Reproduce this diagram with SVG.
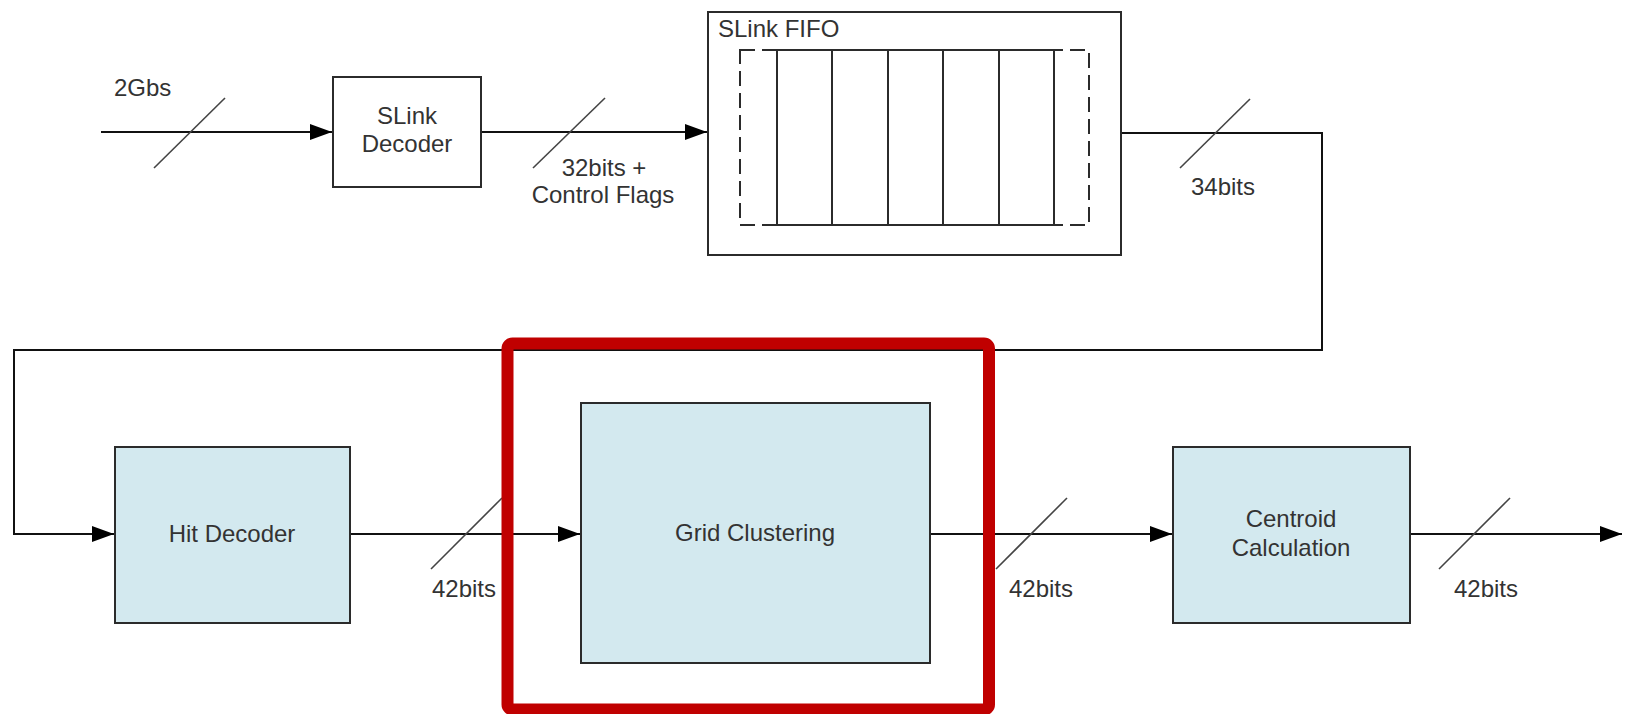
<svg xmlns="http://www.w3.org/2000/svg" width="1628" height="714" viewBox="0 0 1628 714">
<style>
.box{fill:#ffffff;stroke:#2b2b2b;stroke-width:2}
.blue{fill:#d3e9ef;stroke:#2b2b2b;stroke-width:2}
.txt{font-family:"Liberation Sans",Arial,sans-serif;font-size:24px;fill:#333333}
.mid{text-anchor:middle}
.wire{fill:none;stroke:#111111;stroke-width:2}
.slash{stroke:#444444;stroke-width:1.6}
.dash{fill:none;stroke:#2b2b2b;stroke-width:2;stroke-dasharray:15 7}
</style>
<defs>
<marker id="arr" markerUnits="userSpaceOnUse" markerWidth="24" markerHeight="18" refX="22" refY="8" orient="auto">
<path d="M0,0 L22,8 L0,16 z" fill="#000000"/>
</marker>
</defs>
<rect width="1628" height="714" fill="#ffffff"/>

<g id="connectors">
<path class="wire" d="M101,132 H332" marker-end="url(#arr)"/>
<path class="wire" d="M481,132 H707" marker-end="url(#arr)"/>
<path class="wire" d="M1121,133 H1322 V350 H14 V534 H114" marker-end="url(#arr)"/>
<path class="wire" d="M350,534 H580" marker-end="url(#arr)"/>
<path class="wire" d="M930,534 H1172" marker-end="url(#arr)"/>
<path class="wire" d="M1410,534 H1622" marker-end="url(#arr)"/>
<line class="slash" x1="154" y1="168" x2="225" y2="98"/>
<line class="slash" x1="533" y1="168" x2="605" y2="98"/>
<line class="slash" x1="1180" y1="168" x2="1250" y2="99"/>
<line class="slash" x1="431" y1="569" x2="502" y2="498"/>
<line class="slash" x1="996" y1="569" x2="1067" y2="498"/>
<line class="slash" x1="1439" y1="569" x2="1510" y2="498"/>
<text class="txt" x="114" y="96">2Gbs</text>
<text class="txt mid" x="604" y="176">32bits +</text>
<text class="txt mid" x="603" y="203">Control Flags</text>
<text class="txt mid" x="1223" y="195">34bits</text>
<text class="txt mid" x="464" y="597">42bits</text>
<text class="txt mid" x="1041" y="597">42bits</text>
<text class="txt mid" x="1486" y="597">42bits</text>
</g>

<g id="slink-decoder">
<rect class="box" x="333" y="77" width="148" height="110"/>
<text class="txt mid" x="407" y="124">SLink</text>
<text class="txt mid" x="407" y="152">Decoder</text>
</g>

<g id="slink-fifo">
<rect class="box" x="708" y="12" width="413" height="243"/>
<text class="txt" x="718" y="37">SLink FIFO</text>
<rect class="dash" x="740" y="50" width="349" height="175"/>
<rect class="box" x="777" y="50" width="277" height="175"/>
<line x1="832" y1="50" x2="832" y2="225" stroke="#2b2b2b" stroke-width="2"/>
<line x1="888" y1="50" x2="888" y2="225" stroke="#2b2b2b" stroke-width="2"/>
<line x1="943" y1="50" x2="943" y2="225" stroke="#2b2b2b" stroke-width="2"/>
<line x1="999" y1="50" x2="999" y2="225" stroke="#2b2b2b" stroke-width="2"/>
</g>

<g id="hit-decoder">
<rect class="blue" x="115" y="447" width="235" height="176"/>
<text class="txt mid" x="232" y="542">Hit Decoder</text>
</g>

<g id="grid-clustering">
<rect class="blue" x="581" y="403" width="349" height="260"/>
<text class="txt mid" x="755" y="541">Grid Clustering</text>
</g>

<g id="centroid-calculation">
<rect class="blue" x="1173" y="447" width="237" height="176"/>
<text class="txt mid" x="1291" y="527">Centroid</text>
<text class="txt mid" x="1291" y="556">Calculation</text>
</g>

<g id="highlight">
<rect x="507.5" y="343.5" width="481.5" height="366" rx="5" fill="none" stroke="#c00000" stroke-width="12"/>
</g>
</svg>
